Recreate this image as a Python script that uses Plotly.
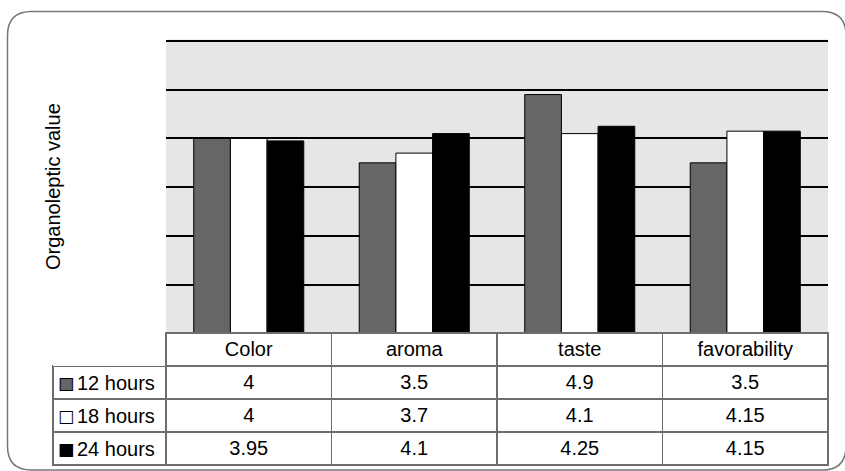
import plotly.graph_objects as go

# ---- data ----
categories = ["Color", "aroma", "taste", "favorability"]
series_names = ["12 hours", "18 hours", "24 hours"]
values_12h = [4, 3.5, 4.9, 3.5]
values_18h = [4, 3.7, 4.1, 4.15]
values_24h = [3.95, 4.1, 4.25, 4.15]
y_title = "Organoleptic value"

# ---- styling ----
W, H = 845, 471
FONT = "Liberation Sans, Arial, sans-serif"
FS = 20
series_values = [values_12h, values_18h, values_24h]
fills = ["#666666", "#ffffff", "#000000"]
grid_line = "#6e6e6e"
ROW_H = 33
TABLE_TOP = 333

def px_x(x):
    return x / W

def px_y(y):
    return 1 - y / H

fig = go.Figure()

for name, vals, c in zip(series_names, series_values, fills):
    fig.add_trace(go.Bar(
        x=categories, y=vals, name=name,
        marker=dict(color=c, line=dict(color="black", width=1)),
        showlegend=False, hoverinfo="skip",
    ))

def fmt(v):
    return f"{v:g}"

cell_cols = [[""] * len(series_names)] + [[fmt(s[i]) for s in series_values] for i in range(len(categories))]

fig.add_trace(go.Table(
    domain=dict(x=[px_x(53), px_x(828)], y=[0, px_y(TABLE_TOP)]),
    columnwidth=[113] + [165.5] * len(categories),
    header=dict(
        values=[""] + categories,
        height=ROW_H,
        fill_color="white",
        line=dict(color=["rgba(0,0,0,0)"] + [grid_line] * len(categories), width=1.5),
        font=dict(family=FONT, size=FS, color="black"),
        align="center",
    ),
    cells=dict(
        values=cell_cols,
        height=ROW_H,
        fill_color="white",
        line=dict(color=grid_line, width=1.5),
        font=dict(family=FONT, size=FS, color="black"),
        align=["left"] + ["center"] * len(categories),
    ),
))

# legend keys + series names in the table's first column
annotations = []
for i, (name, fc) in enumerate(zip(series_names, fills)):
    yc = px_y(TABLE_TOP + ROW_H * (i + 1) + ROW_H / 2)
    annotations.append(dict(text="■", x=px_x(66), y=yc, xref="paper", yref="paper",
                            showarrow=False, xanchor="center", yanchor="middle",
                            font=dict(family="DejaVu Sans", size=17, color=fc)))
    annotations.append(dict(text="□", x=px_x(66), y=yc, xref="paper", yref="paper",
                            showarrow=False, xanchor="center", yanchor="middle",
                            font=dict(family="DejaVu Sans", size=17, color="black")))
    annotations.append(dict(text=name, x=px_x(75), y=yc, xref="paper", yref="paper",
                            showarrow=False, xanchor="left", yanchor="middle",
                            font=dict(family=FONT, size=FS, color="black")))

annotations.append(dict(text=y_title, x=px_x(53), y=px_y(187), xref="paper", yref="paper",
                        textangle=-90, showarrow=False, xanchor="center", yanchor="middle",
                        font=dict(family=FONT, size=FS, color="black")))

# rounded outer border
x0, x1, y0, y1, r = 7.5, 846, 11.5, 470, 24
path = (
    f"M {px_x(x0 + r)},{px_y(y0)} L {px_x(x1 - r)},{px_y(y0)} "
    f"Q {px_x(x1)},{px_y(y0)} {px_x(x1)},{px_y(y0 + r)} "
    f"L {px_x(x1)},{px_y(y1 - r)} Q {px_x(x1)},{px_y(y1)} {px_x(x1 - r)},{px_y(y1)} "
    f"L {px_x(x0 + r)},{px_y(y1)} Q {px_x(x0)},{px_y(y1)} {px_x(x0)},{px_y(y1 - r)} "
    f"L {px_x(x0)},{px_y(y0 + r)} Q {px_x(x0)},{px_y(y0)} {px_x(x0 + r)},{px_y(y0)} Z"
)

fig.update_layout(
    width=W, height=H, autosize=False,
    margin=dict(l=0, r=0, t=0, b=0),
    paper_bgcolor="white",
    plot_bgcolor="#e6e6e6",
    barmode="group", bargap=0.335, bargroupgap=0,
    font=dict(family=FONT, size=FS, color="black"),
    xaxis=dict(domain=[px_x(166), px_x(828)], showticklabels=False, showgrid=False,
               zeroline=False, showline=False, ticks=""),
    yaxis=dict(domain=[px_y(333.5), px_y(39.5)], range=[0, 6.03], dtick=1,
               showticklabels=False, showgrid=True, gridcolor="black", gridwidth=1.5,
               zeroline=False, showline=False, ticks=""),
    shapes=[dict(type="path", xref="paper", yref="paper", path=path,
                 line=dict(color="#777777", width=1.5), fillcolor="rgba(0,0,0,0)")],
    annotations=annotations,
)

fig.write_html(
    "out.html",
    config={"displayModeBar": False},
    post_script="document.body.style.margin='0';document.body.style.overflow='hidden';",
)
